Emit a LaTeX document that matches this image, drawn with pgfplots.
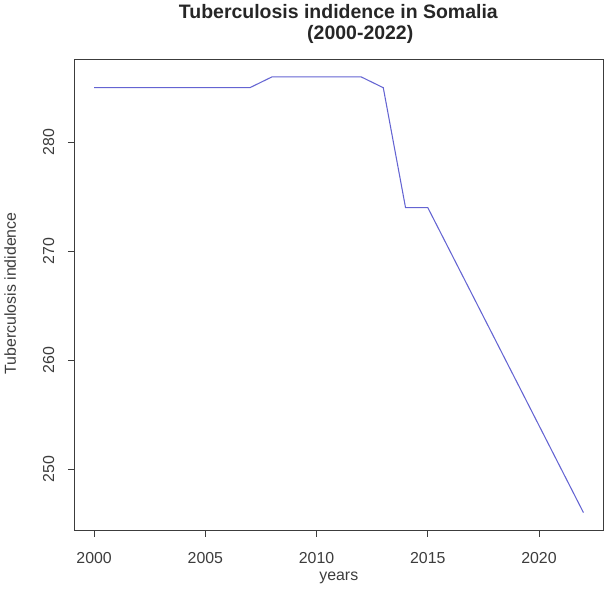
\documentclass[border=0pt]{standalone}
\usepackage{pgfplots}
\pgfplotsset{compat=1.18}
\usepackage{fontspec}
\setmainfont{Liberation Sans}
\definecolor{linec}{RGB}{100,100,210}
\definecolor{axc}{RGB}{60,60,60}
\begin{document}
\begin{tikzpicture}[x=1bp,y=1bp]
\begin{axis}[
  at={(0,0)}, anchor=south west,
  scale only axis,
  width=397.5bp, height=354bp,
  xmin=1999.12, xmax=2022.88,
  ymin=244.4, ymax=287.6,
  xtick={2000,2005,2010,2015,2020},
  ytick={250,260,270,280},
  tick align=outside,
  major tick length=5bp,
  every tick/.style={axc, line width=0.6pt},
  axis line style={axc, line width=0.6pt},
  xtick pos=bottom, ytick pos=left,
  x tick label style={font=\fontsize{12}{13}\selectfont, text=axc, /pgf/number format/1000 sep={}},
  y tick label style={font=\fontsize{12}{13}\selectfont, text=axc, rotate=90, anchor=south},
  xticklabel shift=8bp,
  yticklabel shift=6.7bp,
  /pgf/number format/assume math mode=true,
  scaled ticks=false,
  clip=false,
]
\addplot[linec, line width=0.8pt] coordinates {
(2000,285) (2001,285) (2002,285) (2003,285) (2004,285) (2005,285) (2006,285) (2007,285)
(2008,286) (2009,286) (2010,286) (2011,286) (2012,286) (2013,285)
(2014,274) (2015,274) (2016,270) (2017,266) (2018,262) (2019,258) (2020,254) (2021,250) (2022,246)
};
\end{axis}
\path (-54.75bp,-45bp) rectangle (400.5bp,397.5bp);
\node[font=\fontsize{12}{13}\selectfont, text=axc] at (198.75bp,-36bp) {years};
\node[font=\fontsize{12}{13}\selectfont, text=axc, rotate=90] at (-48.4bp,178bp) {Tuberculosis indidence};
\node[font=\bfseries\fontsize{14.7}{16}\selectfont, text=black!85, anchor=base] at (198.4bp,384.75bp) {Tuberculosis indidence in Somalia};
\node[font=\bfseries\fontsize{14.7}{16}\selectfont, text=black!85, anchor=base] at (214.9bp,369bp) {(2000-2022)};
\end{tikzpicture}
\end{document}
